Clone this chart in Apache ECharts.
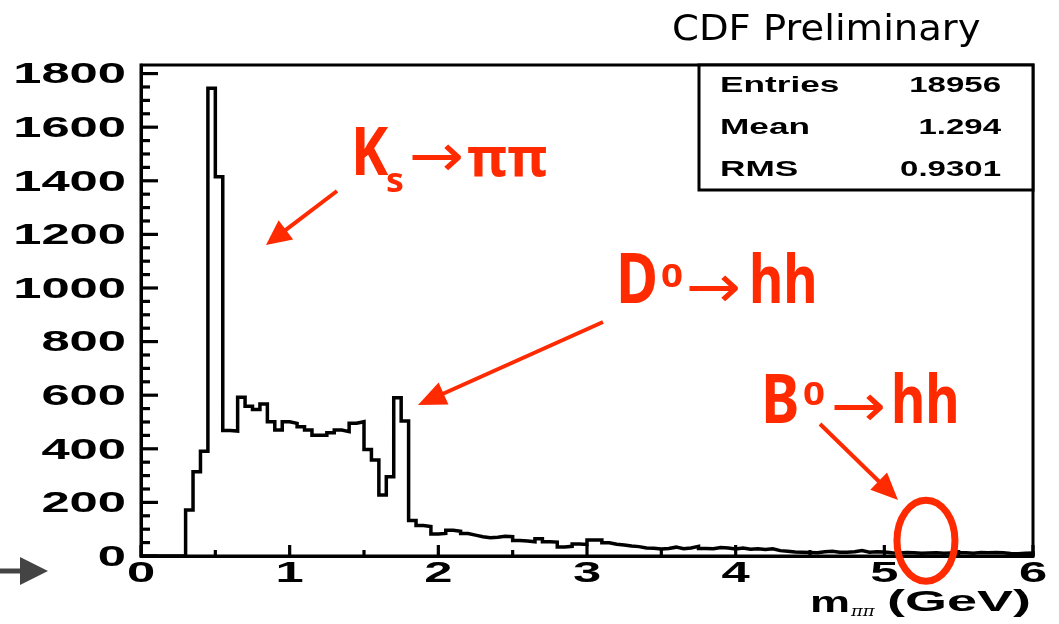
<!DOCTYPE html>
<html>
<head>
<meta charset="utf-8">
<script src="https://cdn.jsdelivr.net/npm/echarts@6/dist/echarts.min.js"></script>
<style>
  html, body { margin: 0; padding: 0; background: #fff; }
  #main { width: 1059px; height: 624px; }
</style>
</head>
<body>
<div id="main"></div>
<script>
// m(pi pi) histogram: 120 bins of 0.05 GeV between 0 and 6 GeV
const histMin = 0;
const histMax = 6;
const counts = [
  0, 0, 0, 0, 0, 0, 172, 314, 391, 1745,
  1415, 468, 466, 592, 559, 547, 567, 501, 470, 501,
  495, 482, 470, 451, 451, 460, 470, 464, 495, 501,
  397, 358, 228, 296, 590, 504, 132, 114, 110, 82,
  84, 96, 92, 84, 78, 72, 68, 70, 74, 72,
  58, 56, 53, 64, 53, 52, 34, 36, 45, 43,
  60, 60, 49, 44, 41, 37, 35, 30, 29, 26,
  28, 33, 27, 30, 36, 28, 27, 32, 30, 26,
  30, 25, 27, 24, 27, 20, 18, 15, 14, 13,
  12, 16, 18, 14, 14, 16, 20, 14, 16, 15,
  12, 11, 13, 12, 10, 11, 12, 10, 11, 12,
  12, 10, 13, 12, 13, 12, 9, 8, 10, 11
];
const yMax = 1832;
const yTickValues = [0, 200, 400, 600, 800, 1000, 1200, 1400, 1600, 1800];
const yTickLabels = ['0', '200', '400', '600', '800', '1000', '1200', '1400', '1600', '1800'];
const yMinorStep = 50;
const xTickValues = [0, 1, 2, 3, 4, 5, 6];
const xTickLabels = ['0', '1', '2', '3', '4', '5', '6'];
const xMinorValues = [0.5, 1.5, 2.5, 3.5, 4.5, 5.5];
const statNames = ['Entries', 'Mean', 'RMS'];
const statValues = ['18956', '1.294', '0.9301'];
const b0Mass = 5.28;

// step outline from bin low edges
const binWidth = (histMax - histMin) / counts.length;
const outline = counts.map((c, i) => [histMin + i * binWidth, c]);
outline.push([histMax, counts[counts.length - 1]], [histMax, 0]);

const chart = echarts.init(document.getElementById('main'), null, { renderer: 'canvas' });
const black = '#000';
const red = '#ff2a00';

chart.setOption({
  animation: false,
  backgroundColor: '#fff',
  grid: { left: 141, top: 65, right: 26, bottom: 68, show: true, borderColor: black, borderWidth: 3, backgroundColor: 'transparent' },
  xAxis: {
    type: 'value', min: histMin, max: histMax, interval: 1,
    axisLine: { show: true, lineStyle: { color: black, width: 3 } },
    axisTick: { show: false },
    axisLabel: { show: false },
    splitLine: { show: false }
  },
  yAxis: {
    type: 'value', min: 0, max: yMax, interval: 200,
    axisLine: { show: true, lineStyle: { color: black, width: 3 } },
    axisTick: { show: false },
    axisLabel: { show: false },
    splitLine: { show: false }
  },
  series: [{
    type: 'line', step: 'end', data: outline, symbol: 'none', clip: false,
    lineStyle: { color: black, width: 3.5, join: 'miter' }
  }]
});

const px = v => chart.convertToPixel({ xAxisIndex: 0 }, v);
const py = v => chart.convertToPixel({ yAxisIndex: 0 }, v);

function txt(text, x, y, font, align, vAlign, fill, sx) {
  return {
    type: 'text', x: x, y: y, scaleX: sx || 1, z: 100,
    style: { text: text, font: font, fill: fill || black,
      align: align, verticalAlign: vAlign, textAlign: align, textVerticalAlign: vAlign }
  };
}
function seg(x1, y1, x2, y2, color, width) {
  return { type: 'line', z: 100, shape: { x1: x1, y1: y1, x2: x2, y2: y2 }, style: { stroke: color, lineWidth: width } };
}
function arrow(x1, y1, x2, y2, headLen, headHalf, color, width) {
  const dx = x2 - x1, dy = y2 - y1, L = Math.hypot(dx, dy), ux = dx / L, uy = dy / L;
  const bx = x2 - ux * headLen, by = y2 - uy * headLen;
  return [
    seg(x1, y1, bx + ux * 3, by + uy * 3, color, width),
    { type: 'polygon', z: 100, shape: { points: [[x2, y2], [bx - uy * headHalf, by + ux * headHalf], [bx + uy * headHalf, by - ux * headHalf]] }, style: { fill: color } }
  ];
}

const axisFont = 'bold 30px "Liberation Sans", Arial, sans-serif';
const axisStretch = 1.69;
const graphics = [];
const x0 = px(histMin), y0 = py(0);

// ticks, pointing into the frame
yTickValues.forEach(v => graphics.push(seg(x0, py(v), x0 + 17, py(v), black, 3.2)));
for (let v = yMinorStep; v < yTickValues[yTickValues.length - 1]; v += yMinorStep) {
  if (yTickValues.indexOf(v) < 0) graphics.push(seg(x0, py(v), x0 + 9, py(v), black, 3.2));
}
xTickValues.forEach(v => graphics.push(seg(px(v), y0, px(v), y0 - 11, black, 3.2)));
xMinorValues.forEach(v => graphics.push(seg(px(v), y0, px(v), y0 - 6, black, 3.2)));

// tick labels
yTickValues.forEach((v, i) => graphics.push(txt(yTickLabels[i], x0 - 15, py(v) + 1.5, axisFont, 'right', 'middle', black, axisStretch)));
xTickValues.forEach((v, i) => graphics.push(txt(xTickLabels[i], px(v), y0 + 18, axisFont, 'center', 'middle', black, axisStretch)));

// axis title
graphics.push(txt('m', 810, 604, axisFont, 'left', 'middle', black, 1.5));
graphics.push(txt('ππ', 851, 612, 'italic 15px "DejaVu Serif", serif', 'left', 'middle', black, 1.2));
graphics.push(txt('(GeV)', 1031, 603, axisFont, 'right', 'middle', black, 1.8));

// statistics box
graphics.push({ type: 'rect', z: 90, shape: { x: 699, y: 65, width: 334, height: 125 }, style: { fill: '#fff', stroke: black, lineWidth: 3 } });
const statFont = 'bold 22px "Liberation Sans", Arial, sans-serif';
const statRows = [86, 128, 169.5];
statNames.forEach((n, i) => {
  graphics.push(txt(n, 720, statRows[i], statFont, 'left', 'middle', black, 1.6));
  graphics.push(txt(statValues[i], 1001, statRows[i], statFont, 'right', 'middle', black, 1.5));
});

// header
graphics.push(txt('CDF Preliminary', 672, 30.5, '36px "DejaVu Sans", sans-serif', 'left', 'middle', black, 1.07));

// decay annotations
const bigFont = 'bold 66px "Noto Sans", sans-serif';
const arrowFont = '60px "DejaVu Sans", sans-serif';
graphics.push(txt('K', 351, 156, bigFont, 'left', 'middle', red, 0.85));
graphics.push(txt('s', 386, 182, 'bold 34px "Noto Sans", sans-serif', 'left', 'middle', red, 1.05));
graphics.push(txt('→', 409, 160, arrowFont, 'left', 'middle', red, 1.1));
graphics.push(txt('ππ', 467, 161, 'bold 54px "Noto Sans", sans-serif', 'left', 'middle', red, 1));

graphics.push(txt('D', 616, 283, 'bold 70px "Noto Sans", sans-serif', 'left', 'middle', red, 0.82));
graphics.push(txt('0', 661, 278, 'bold 32px "Noto Sans", sans-serif', 'left', 'middle', red, 1.2));
graphics.push(txt('→', 686, 291, arrowFont, 'left', 'middle', red, 1.1));
graphics.push(txt('hh', 749, 284, bigFont, 'left', 'middle', red, 0.8));

graphics.push(txt('B', 761, 404, 'bold 68px "Noto Sans", sans-serif', 'left', 'middle', red, 0.85));
graphics.push(txt('0', 803, 396, 'bold 32px "Noto Sans", sans-serif', 'left', 'middle', red, 1.2));
graphics.push(txt('→', 831, 410, arrowFont, 'left', 'middle', red, 1.1));
graphics.push(txt('hh', 891, 404, bigFont, 'left', 'middle', red, 0.8));

// pointers
arrow(337, 191, 266, 245, 25, 12, red, 4).forEach(g => graphics.push(g));
arrow(603, 322, 418, 405, 28, 12, red, 4).forEach(g => graphics.push(g));
arrow(820, 424, 898, 500, 27, 12, red, 4).forEach(g => graphics.push(g));

// B0 signal region
graphics.push({ type: 'ellipse', z: 100, shape: { cx: px(b0Mass), cy: py(57), rx: 29, ry: 40.5 }, style: { fill: 'none', stroke: red, lineWidth: 7 } });

// side marker
graphics.push(seg(-5, 571, 24, 571, '#444', 5));
graphics.push({ type: 'polygon', z: 100, shape: { points: [[20, 557], [48, 571], [20, 585]] }, style: { fill: '#444' } });

chart.setOption({ graphic: { elements: graphics } });
</script>
</body>
</html>
